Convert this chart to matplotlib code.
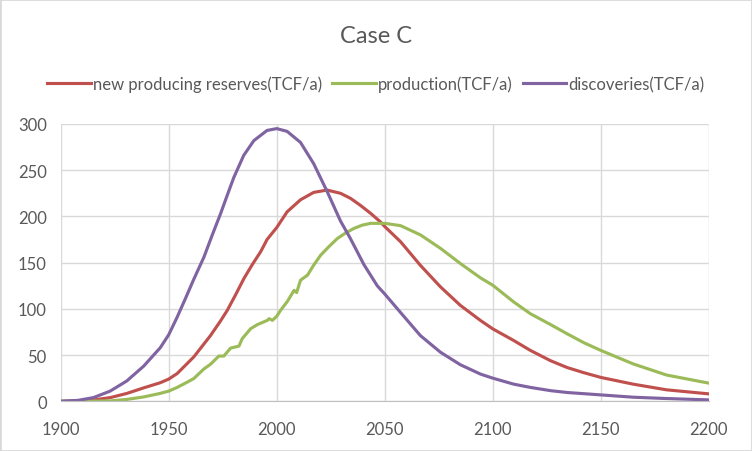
import numpy as np
import matplotlib.pyplot as plt
from matplotlib.patches import Rectangle

plt.rcParams['font.family'] = ['Lato', 'DejaVu Sans']

# discoveries(TCF/a)
disc_year = [1900, 1908, 1915.2, 1922.9, 1930.6, 1938.4, 1946.1, 1950, 1953.9, 1957.7,
             1961.6, 1966.3, 1970, 1974, 1977.1, 1980.1, 1984.7, 1989.4, 1995.5, 2000,
             2004.8, 2011, 2017.1, 2023.3, 2029.5, 2034.1, 2040.3, 2046.5, 2050, 2057.3,
             2066.5, 2075.8, 2085, 2094.3, 2100, 2109.7, 2117.4, 2126.7, 2134.4, 2150,
             2165, 2180, 2200]
disc_val = [0, 1, 4, 11, 22, 38, 58, 72, 91, 111,
            132, 156, 179, 203, 223, 242, 266, 282, 293, 295,
            292, 280, 257, 227, 195, 176, 148, 125, 116, 96,
            71, 53, 39.5, 29.4, 25, 18.5, 15, 11.5, 9.5, 6.9,
            4.4, 3, 1.5]

# new producing reserves(TCF/a)
npr_year = [1900, 1908, 1915, 1923, 1930.6, 1938.4, 1946, 1950, 1953.9, 1961.6,
            1969.3, 1974, 1977.1, 1980.9, 1984.8, 1988.7, 1992.6, 1995.5, 2000, 2004.8,
            2011, 2017.1, 2023.3, 2029.5, 2034.1, 2038.7, 2043.4, 2048, 2050, 2057.3,
            2066.5, 2075.8, 2085, 2094.3, 2100, 2109.7, 2117.4, 2126.7, 2134.4, 2142,
            2150, 2165, 2180.4, 2200]
npr_val = [0, 0.6, 1.4, 4, 8.5, 14.5, 20, 24, 30, 48,
           71, 87, 98.4, 115, 132.8, 148, 162, 175, 188, 205,
           218, 226, 228.5, 225, 219.6, 212, 203.4, 194, 189, 172.6,
           147, 123.7, 103.7, 87.4, 78.3, 65.7, 55, 43.9, 36.5, 31,
           25.8, 18.5, 12.4, 8]

# production(TCF/a)
prod_year = [1900, 1915, 1923, 1930.6, 1938.4, 1946, 1950, 1953.9, 1958.5, 1961.6,
             1966.3, 1969.3, 1973.2, 1975.5, 1978.6, 1982.5, 1984, 1987.9, 1991, 1995.7,
             1996.4, 1998, 2000, 2001.8, 2004.9, 2008, 2009.2, 2011, 2014.2, 2017,
             2020.3, 2024, 2028, 2031.8, 2035.7, 2039.5, 2043.4, 2050, 2057.3, 2066.5,
             2075.8, 2085, 2094.3, 2100, 2109.7, 2117.4, 2126.7, 2134.4, 2142, 2150,
             2165, 2180.4, 2200]
prod_val = [0, 0.2, 0.4, 2, 4.7, 8.5, 11, 15, 20.6, 24.6,
            35, 40, 48.9, 48.9, 57.5, 59.7, 67.7, 78.5, 82.9, 87.6,
            89.4, 87.6, 92, 98.5, 108, 120, 117.6, 131, 136.4, 147,
            158, 167, 176, 182, 187, 190.5, 192.5, 192.5, 190, 180,
            165.4, 149, 133.5, 125.5, 107.4, 94.7, 83, 73, 63.5, 55,
            40.4, 28.4, 19.6]

gray = '#595959'
fig = plt.figure(figsize=(7.52, 4.52), dpi=100)
fig.patches.append(Rectangle((0, 0), 1, 1, transform=fig.transFigure, fill=False,
                             edgecolor='#D9D9D9', linewidth=2))
ax = fig.add_axes([0.0807, 0.110, 0.862, 0.6135])

ax.plot(npr_year, npr_val, color='#C0504D', lw=2.25, label='new producing reserves(TCF/a)')
ax.plot(prod_year, prod_val, color='#9BBB59', lw=2.25, label='production(TCF/a)')
ax.plot(disc_year, disc_val, color='#8064A2', lw=2.25, label='discoveries(TCF/a)')

ax.set_xlim(1900, 2200)
ax.set_ylim(0, 300)
ax.set_xticks(np.arange(1900, 2201, 50))
ax.set_yticks(np.arange(0, 301, 50))
ax.grid(True, color='#D9D9D9', lw=1)
ax.set_axisbelow(True)
for s in ['top', 'right', 'left']:
    ax.spines[s].set_visible(False)
ax.spines['bottom'].set_color('#BFBFBF')
ax.tick_params(length=0, labelsize=12, colors=gray)
ax.tick_params(axis='x', pad=14)
ax.tick_params(axis='y', pad=10)

fig.text(0.5, 0.92, 'Case C', ha='center', va='center', fontsize=17, color=gray)
fig.legend(loc='center', bbox_to_anchor=(0.5, 0.812), ncol=3, frameon=False,
           fontsize=12, labelcolor=gray, handlelength=2.6, handletextpad=0.15,
           columnspacing=0.6)

fig.savefig('out.png', dpi=100)
